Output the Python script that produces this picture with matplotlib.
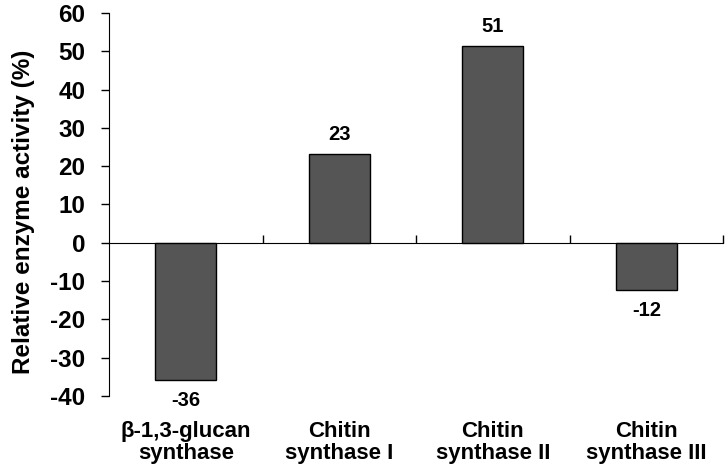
import matplotlib

matplotlib.use("Agg")
import matplotlib.pyplot as plt
import matplotlib.transforms as mtransforms

plt.rcParams["font.family"] = ["Liberation Sans", "DejaVu Sans"]
plt.rcParams["font.weight"] = "bold"
plt.rcParams["axes.unicode_minus"] = False

# values
CATEGORIES = ["β-1,3-glucan\nsynthase", "Chitin\nsynthase I", "Chitin\nsynthase II", "Chitin\nsynthase III"]
BAR_HEIGHTS = [-35.8, 23.3, 51.5, -12.4]
BAR_LABELS = ["-36", "23", "51", "-12"]
Y_TICKS = [-40, -30, -20, -10, 0, 10, 20, 30, 40, 50, 60]

BAR_COLOR = "#555555"


def main() -> None:
    fig = plt.figure(figsize=(7.27, 4.72), dpi=100)
    ax = fig.add_axes([0.150, 0.161, 0.8445, 0.8115])

    xs = list(range(len(CATEGORIES)))
    bars = ax.bar(xs, BAR_HEIGHTS, width=0.40, color=BAR_COLOR, edgecolor="black", linewidth=1.0, zorder=3)

    for bar, value, label in zip(bars, BAR_HEIGHTS, BAR_LABELS):
        cx = bar.get_x() + bar.get_width() / 2
        offset = 13.5 if value > 0 else -14.5
        ax.annotate(label, (cx, value), textcoords="offset points", xytext=(0, offset),
                    ha="center", va="center", fontsize=14.5, fontweight="bold")

    ax.set_xlim(-0.5, len(CATEGORIES) - 0.5)
    ax.set_ylim(-40, 60)
    ax.set_yticks(Y_TICKS)
    ax.tick_params(axis="y", direction="out", length=6, width=1, labelsize=17.5, pad=11)

    # x axis sits on the zero line, ticks between categories point up
    ax.spines["bottom"].set_position(("data", 0))
    ax.spines["top"].set_visible(False)
    ax.spines["right"].set_visible(False)
    ax.set_xticks([i + 0.5 for i in xs])
    ax.set_xticklabels([])
    ax.tick_params(axis="x", direction="in", length=6, width=1)

    trans = mtransforms.blended_transform_factory(ax.transData, ax.transAxes)
    for x, name in zip(xs, CATEGORIES):
        ax.text(x, -0.121, name, transform=trans, ha="center", va="center",
                fontsize=16, fontweight="bold", linespacing=1.1)

    ax.set_ylabel("Relative enzyme activity (%)", fontsize=17.5, fontweight="bold")
    ax.yaxis.set_label_coords(-0.12, 0.48)

    fig.savefig("out.png", dpi=100)
    plt.close(fig)


if __name__ == "__main__":
    main()
